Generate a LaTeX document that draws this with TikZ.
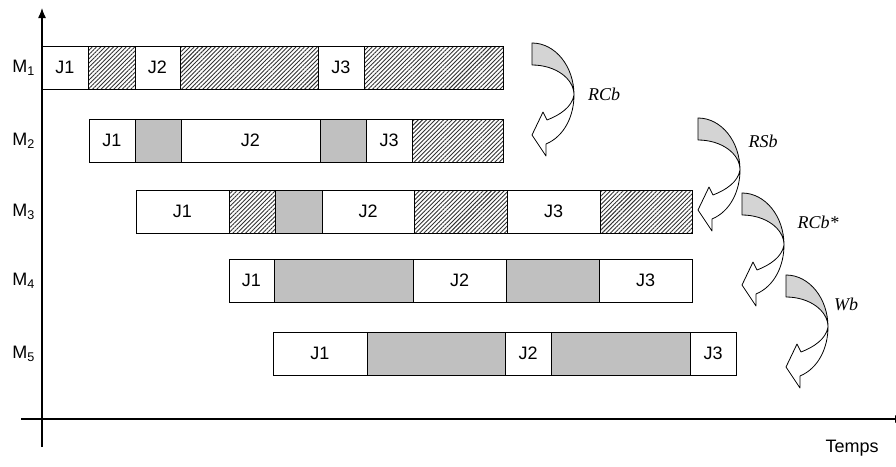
\documentclass[tikz,border=0pt]{standalone}
\usepackage{fontspec}
\setmainfont{Liberation Sans}
\newfontfamily\labelserif{Liberation Serif}
\usetikzlibrary{patterns.meta, arrows.meta}

\definecolor{waitgrey}{RGB}{192,192,192}
\definecolor{arrowgrey}{RGB}{212,212,212}
\definecolor{hatchgrey}{RGB}{50,50,50}

\tikzset{
  seg/.style={draw, line width=0.9pt, anchor=north west, minimum height=43pt,
              inner sep=0pt, outer sep=0pt, font=\fontsize{18}{21}\selectfont},
  job/.style={seg, fill=white},
  waitbox/.style={seg, fill=waitgrey},
  hatchbox/.style={seg, pattern={Lines[angle=45, distance=3pt, line width=0.9pt]},
                   pattern color=hatchgrey},
  machine/.style={anchor=east, inner sep=0pt, font=\fontsize{18}{21}\selectfont},
  axis/.style={line width=1.3pt},
  arrowline/.style={line width=0.8pt, line join=round},
  rulelabel/.style={inner sep=0pt, font=\labelserif\itshape\fontsize{18}{21}\selectfont},
  curvarrow/.pic={
    % back band of the curved arrow
    \filldraw[arrowline, fill=arrowgrey]
      (0,0) .. controls (23.2,0) and (42,23.3) .. (42,52)
      .. controls (42,35.4) and (23.2,22) .. (0,22) -- cycle;
    % front shaft and head
    \filldraw[arrowline, fill=white]
      (42,52) .. controls (42,72) and (33,93) .. (14,101)
      -- (14,113) -- (0,92) -- (11,69) -- (15,77)
      .. controls (28,72) and (40,64) .. (42,52) -- cycle;
  }
}

\begin{document}
\begin{tikzpicture}[x=1pt, y=-1pt]
  \useasboundingbox (0,0) rectangle (896,466);

  % axes
  \coordinate (ybot) at (42,447);
  \coordinate (ytop) at (42,8);
  \coordinate (xleft) at (21,419);
  \coordinate (xright) at (905,419);
  \draw[axis, -{Latex[length=10pt, width=8pt]}] (ybot) -- (ytop);
  \draw[axis, -{Latex[length=10pt, width=8pt]}] (xleft) -- (xright);
  \node[font=\fontsize{18}{21}\selectfont, inner sep=0pt] (temps) at (852,448) {Temps};

  % machine labels
  \node[machine] (M1) at (35,68)  {M\textsubscript{1}};
  \node[machine] (M2) at (35,141) {M\textsubscript{2}};
  \node[machine] (M3) at (35,212) {M\textsubscript{3}};
  \node[machine] (M4) at (35,281) {M\textsubscript{4}};
  \node[machine] (M5) at (35,354) {M\textsubscript{5}};

  % M1
  \node[job,      minimum width=46pt]  (m1j1) at (42,46)  {J1};
  \node[hatchbox, minimum width=47pt]  (m1h1) at (88,46)  {};
  \node[job,      minimum width=45pt]  (m1j2) at (135,46) {J2};
  \node[hatchbox, minimum width=138pt] (m1h2) at (180,46) {};
  \node[job,      minimum width=46pt]  (m1j3) at (318,46) {J3};
  \node[hatchbox, minimum width=139pt] (m1h3) at (364,46) {};

  % M2
  \node[job,      minimum width=46pt]  (m2j1) at (89,119)  {J1};
  \node[waitbox,  minimum width=46pt]  (m2w1) at (135,119) {};
  \node[job,      minimum width=139pt] (m2j2) at (181,119) {J2};
  \node[waitbox,  minimum width=46pt]  (m2w2) at (320,119) {};
  \node[job,      minimum width=46pt]  (m2j3) at (366,119) {J3};
  \node[hatchbox, minimum width=91pt]  (m2h1) at (412,119) {};

  % M3
  \node[job,      minimum width=93pt]  (m3j1) at (136,190) {J1};
  \node[hatchbox, minimum width=46pt]  (m3h1) at (229,190) {};
  \node[waitbox,  minimum width=47pt]  (m3w1) at (275,190) {};
  \node[job,      minimum width=92pt]  (m3j2) at (322,190) {J2};
  \node[hatchbox, minimum width=93pt]  (m3h2) at (414,190) {};
  \node[job,      minimum width=93pt]  (m3j3) at (507,190) {J3};
  \node[hatchbox, minimum width=92pt]  (m3h3) at (600,190) {};

  % M4
  \node[job,      minimum width=45pt]  (m4j1) at (229,259) {J1};
  \node[waitbox,  minimum width=139pt] (m4w1) at (274,259) {};
  \node[job,      minimum width=93pt]  (m4j2) at (413,259) {J2};
  \node[waitbox,  minimum width=93pt]  (m4w2) at (506,259) {};
  \node[job,      minimum width=93pt]  (m4j3) at (599,259) {J3};

  % M5
  \node[job,      minimum width=94pt]  (m5j1) at (273,332) {J1};
  \node[waitbox,  minimum width=138pt] (m5w1) at (367,332) {};
  \node[job,      minimum width=46pt]  (m5j2) at (505,332) {J2};
  \node[waitbox,  minimum width=139pt] (m5w2) at (551,332) {};
  \node[job,      minimum width=46pt]  (m5j3) at (690,332) {J3};

  % transformation arrows and their labels
  \pic (aRCb)  at (532,43)  {curvarrow};
  \pic (aRSb)  at (698,118) {curvarrow};
  \pic (aRCbs) at (742,193) {curvarrow};
  \pic (aWb)   at (786,275) {curvarrow};

  \node[rulelabel] (lRCb)  at (604,94)  {RCb};
  \node[rulelabel] (lRSb)  at (763,141) {RSb};
  \node[rulelabel] (lRCbs) at (818,222) {RCb*};
  \node[rulelabel] (lWb)   at (846,304) {Wb};
\end{tikzpicture}
\end{document}
